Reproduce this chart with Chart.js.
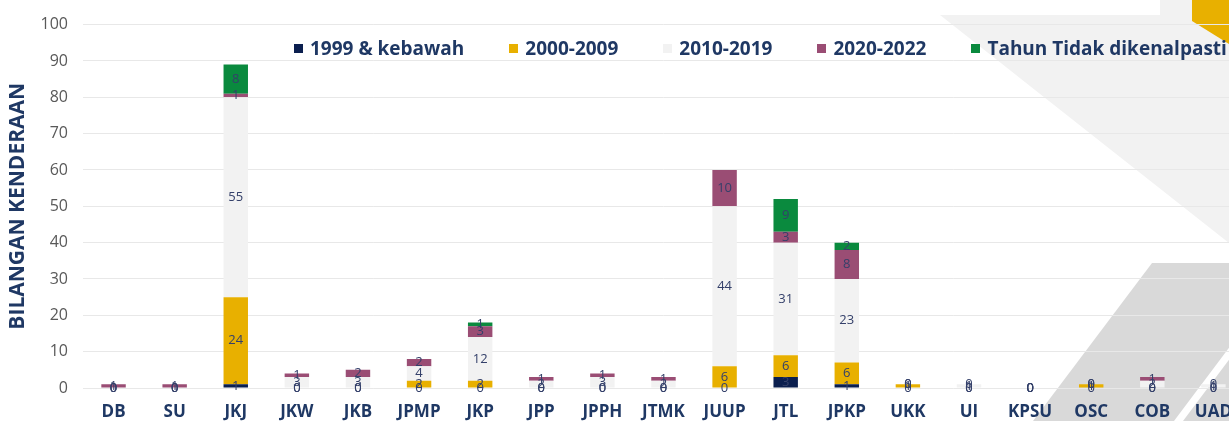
<!DOCTYPE html>
<html>
<head>
<meta charset="utf-8">
<title>Bilangan Kenderaan</title>
<script src="https://cdn.jsdelivr.net/npm/chart.js@4.4.1/dist/chart.umd.min.js"></script>
<style>
  body { margin: 0; overflow: hidden; background: #fff; }
  #wrap { position: relative; width: 1246px; height: 421px; }
  #deco, #chart { position: absolute; left: 0; top: 0; }
  #legend {
    position: absolute; left: 294px; top: 35px;
    display: flex; gap: 45px; white-space: nowrap;
    font: 700 19px "Open Sans", sans-serif; color: #1F3864;
  }
  #legend .item { display: flex; align-items: center; }
  #legend .box { width: 9px; height: 9px; margin-right: 7px; }
</style>
</head>
<body>
<div id="wrap">
  <svg id="deco" width="1246" height="421">
    <polygon points="940,15 1160,15 1160,0 1229,0 1229,243" fill="#F2F2F2"/>
    <polygon points="1192,0 1229,0 1229,44 1192,21" fill="#E8B000"/>
    <polygon points="1152,263 1246,263 1246,421 1033,421" fill="#D9D9D9"/>
    <polygon points="1174,421 1183,421 1246,337 1246,325" fill="#FFFFFF"/>
  </svg>
  <canvas id="chart" width="1246" height="421"></canvas>
  <div id="legend"></div>
</div>
<script>
// categories and per-period counts
const categories = ['DB', 'SU', 'JKJ', 'JKW', 'JKB', 'JPMP', 'JKP', 'JPP', 'JPPH', 'JTMK',
                    'JUUP', 'JTL', 'JPKP', 'UKK', 'UI', 'KPSU', 'OSC', 'COB', 'UAD'];
const before1999 = [0, 0, 1, 0, 0, 0, 0, 0, 0, 0, 0, 3, 1, 0, 0, 0, 0, 0, 0];
const y2000_2009 = [0, 0, 24, 0, 0, 2, 2, 0, 0, 0, 6, 6, 6, 1, 0, 0, 1, 0, 0];
const y2010_2019 = [0, 0, 55, 3, 3, 4, 12, 2, 3, 2, 44, 31, 23, 0, 1, 0, 0, 2, 1];
const y2020_2022 = [1, 1, 1, 1, 2, 2, 3, 1, 1, 1, 10, 3, 8, 0, 0, 0, 0, 1, 0];
const unknownYear = [0, 0, 8, 0, 0, 0, 1, 0, 0, 0, 0, 9, 2, 0, 0, 0, 0, 0, 0];
const yTicks = [0, 10, 20, 30, 40, 50, 60, 70, 80, 90, 100];

const series = [
  { label: '1999 & kebawah', data: before1999, color: '#0B1F4F', showZero: true },
  { label: '2000-2009', data: y2000_2009, color: '#E8B000', showZero: true },
  { label: '2010-2019', data: y2010_2019, color: '#F2F2F2', showZero: true },
  { label: '2020-2022', data: y2020_2022, color: '#9A4D74', showZero: true },
  { label: 'Tahun Tidak dikenalpasti', data: unknownYear, color: '#0A8A3E', showZero: false }
];

// value labels in the middle of each stacked segment
const segmentLabels = {
  id: 'segmentLabels',
  afterDatasetsDraw(chart) {
    const ctx = chart.ctx;
    ctx.save();
    ctx.font = '13px "Open Sans", sans-serif';
    ctx.textAlign = 'center';
    ctx.textBaseline = 'middle';
    ctx.fillStyle = '#34406A';
    chart.data.datasets.forEach((ds, i) => {
      chart.getDatasetMeta(i).data.forEach((bar, j) => {
        const v = ds.data[j];
        if (v === 0 && !series[i].showZero) return;
        ctx.fillText(String(v), bar.x, (bar.y + bar.base) / 2);
      });
    });
    ctx.restore();
  }
};

const chart = new Chart(document.getElementById('chart'), {
  type: 'bar',
  data: {
    labels: categories,
    datasets: series.map(s => ({
      label: s.label,
      data: s.data,
      backgroundColor: s.color,
      borderWidth: 0,
      barPercentage: 0.8,
      categoryPercentage: 0.5
    }))
  },
  options: {
    responsive: false,
    animation: false,
    devicePixelRatio: 1,
    layout: { padding: { top: 19, left: 0, right: 0, bottom: 0 } },
    plugins: {
      legend: { display: false },
      tooltip: { enabled: false }
    },
    scales: {
      x: {
        stacked: true,
        grid: { display: false, drawTicks: false },
        border: { display: false },
        ticks: {
          padding: 14,
          color: '#1F3864',
          font: { family: 'Open Sans', size: 17, weight: 'bold' }
        },
        afterFit(scale) { scale.height = 33; }
      },
      y: {
        stacked: true,
        min: 0,
        max: 100,
        afterBuildTicks(scale) { scale.ticks = yTicks.map(v => ({ value: v })); },
        grid: { color: '#E8E8E8', lineWidth: 1, drawTicks: false },
        border: { display: false },
        ticks: {
          padding: 15,
          color: '#595959',
          font: { family: 'Open Sans', size: 16 }
        },
        title: {
          display: true,
          text: 'BILANGAN KENDERAAN',
          color: '#1F3864',
          padding: { top: 5, bottom: 0 },
          font: { family: 'Open Sans', size: 21, weight: 'bold' }
        },
        afterFit(scale) { scale.width = 83; }
      }
    }
  },
  plugins: [segmentLabels]
});

// legend row laid over the plot
const legendEl = document.getElementById('legend');
series.forEach(s => {
  const item = document.createElement('div');
  item.className = 'item';
  item.innerHTML = `<span class="box" style="background:${s.color}"></span><span>${s.label}</span>`;
  legendEl.appendChild(item);
});
</script>
</body>
</html>
